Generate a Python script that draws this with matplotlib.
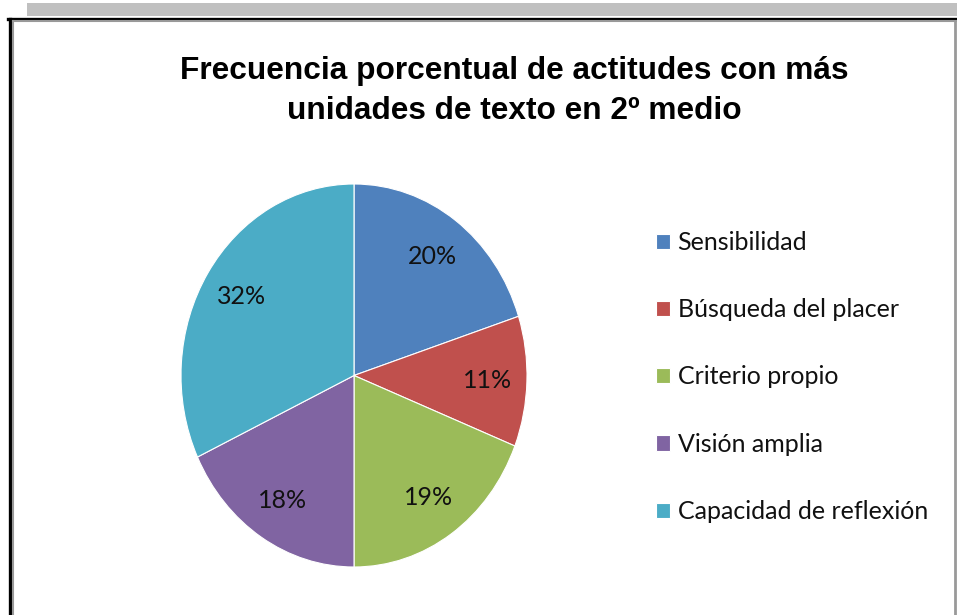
import matplotlib
matplotlib.use("Agg")
import matplotlib.pyplot as plt
from matplotlib.patches import Rectangle
from matplotlib.lines import Line2D

W, H = 957, 615

categories = ["Sensibilidad", "Búsqueda del placer", "Criterio propio",
              "Visión amplia", "Capacidad de reflexión"]
values = [20, 11, 19, 18, 32]
colors = ["#4F81BD", "#C0504D", "#9BBB59", "#8064A2", "#4BACC6"]
title = "Frecuencia porcentual de actitudes con más\nunidades de texto en 2º medio"


def px_box(x0, y0, x1, y1):
    # pixel box (top-left origin) -> figure fraction [left, bottom, width, height]
    return [x0 / W, 1 - y1 / H, (x1 - x0) / W, (y1 - y0) / H]


fig = plt.figure(figsize=(W / 100, H / 100), dpi=100)
fig.patch.set_facecolor("white")

# window frame around the chart
fig.add_artist(Rectangle((27 / W, 1 - 16 / H), (W - 27) / W, 13 / H,
                         transform=fig.transFigure, color="#C0C0C0", lw=0))
fig.add_artist(Line2D([8 / W, 1], [1 - 18.5 / H] * 2, transform=fig.transFigure, color="black", lw=2.4))
fig.add_artist(Line2D([9.5 / W] * 2, [0, 1 - 18.5 / H], transform=fig.transFigure, color="black", lw=2.4))
fig.add_artist(Line2D([12.5 / W] * 2, [0, 1 - 21 / H], transform=fig.transFigure, color="#999999", lw=1.5))
fig.add_artist(Line2D([12.5 / W, 1], [1 - 21 / H] * 2, transform=fig.transFigure, color="#999999", lw=1.5))
fig.add_artist(Line2D([955 / W] * 2, [0, 1 - 21 / H], transform=fig.transFigure, color="#999999", lw=2))

fig.text(514 / W, 1 - 91 / H, title, ha="center", va="center", fontsize=22.8,
         fontweight="bold", family="Liberation Sans", linespacing=1.45, color="black")

ax = fig.add_axes(px_box(181, 184, 527, 567))
wedges, _, autotexts = ax.pie(
    values, colors=colors, startangle=90, counterclock=False,
    autopct=lambda p: f"{p:.0f}%", pctdistance=0.77,
    wedgeprops=dict(edgecolor="white", linewidth=0.8),
    textprops=dict(fontsize=18, family="Lato", color="#111111"),
)
ax.set_aspect("auto")
ax.set_xlim(-1, 1)
ax.set_ylim(-1, 1)

fig.legend(wedges, categories, loc="upper left", bbox_to_anchor=(646 / W, 1 - 221 / H),
           frameon=False, prop=dict(family="Lato", size=18), labelcolor="#111111",
           handlelength=0.56, handleheight=0.56, handletextpad=0.3,
           labelspacing=1.77, borderaxespad=0)

fig.savefig("out.png", dpi=100, facecolor="white")
